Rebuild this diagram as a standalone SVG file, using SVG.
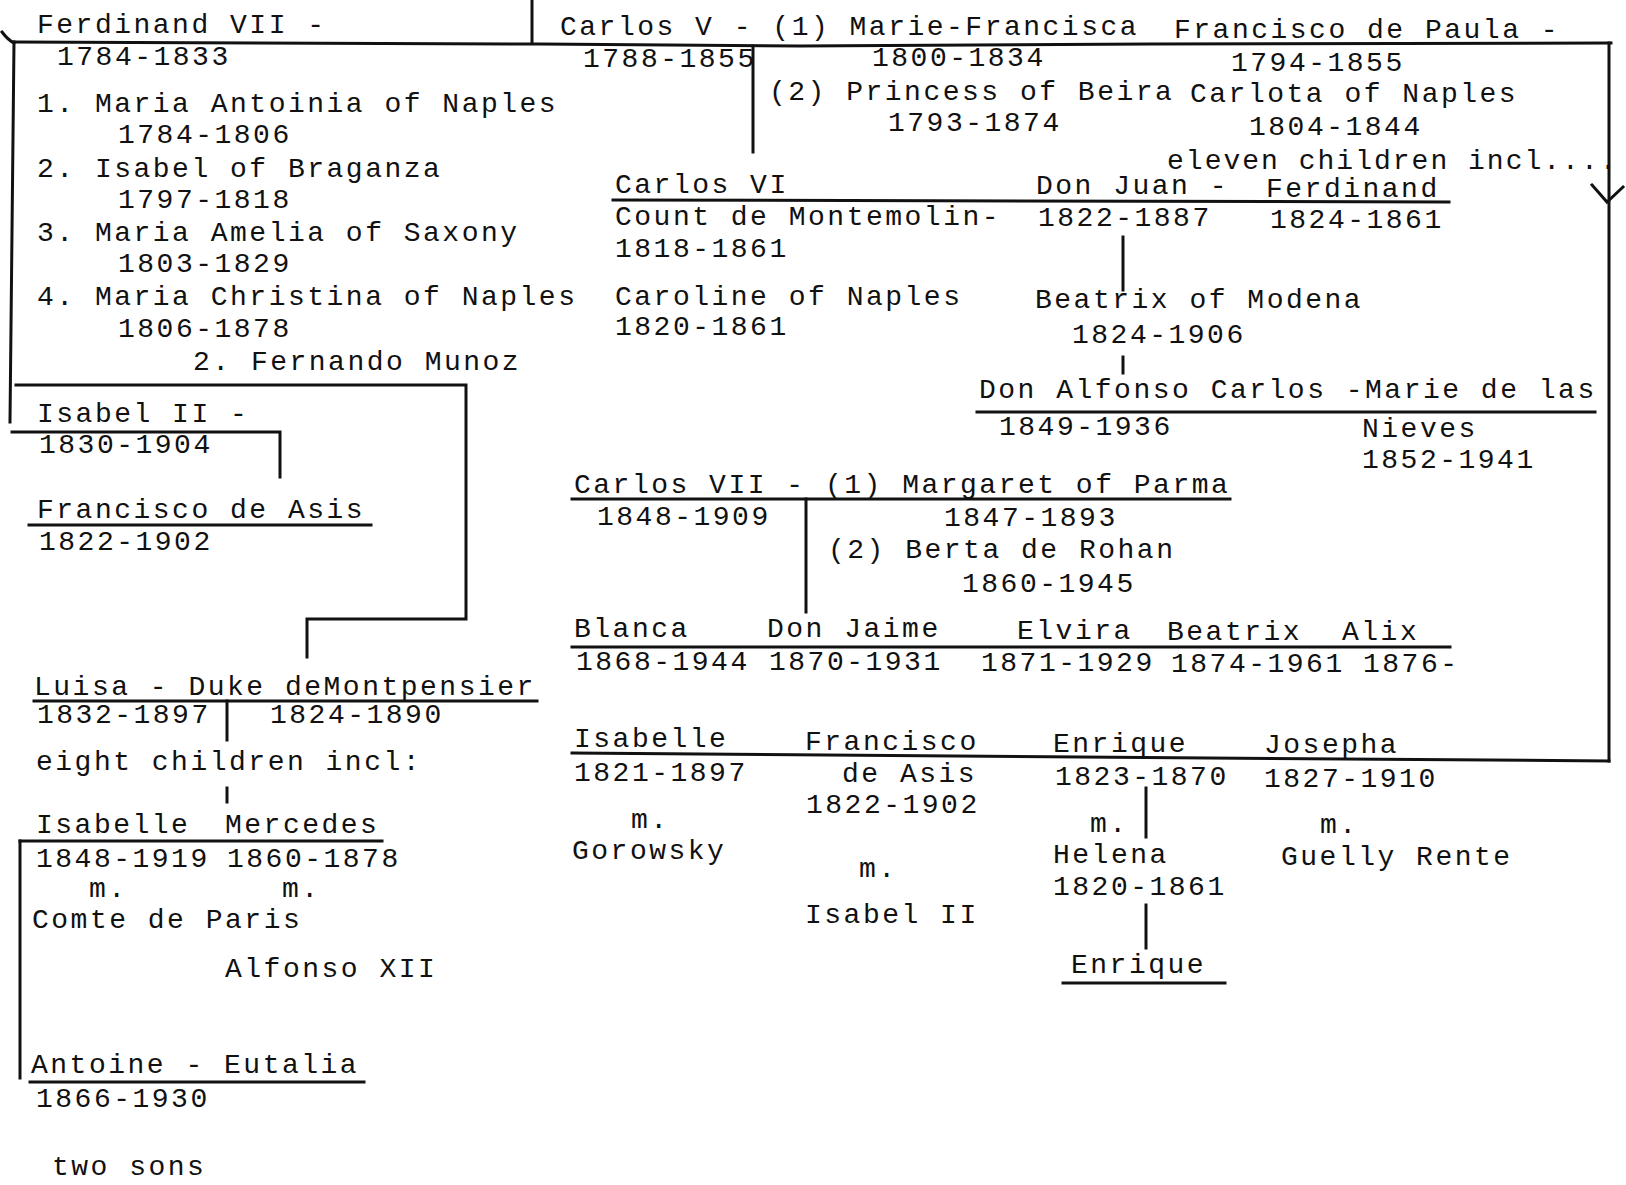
<svg xmlns="http://www.w3.org/2000/svg" width="1626" height="1185" viewBox="0 0 1626 1185">
<style>
.t{font-family:"Liberation Mono","DejaVu Sans Mono",monospace;font-size:28px;letter-spacing:2.5px;fill:#111}
.ln{stroke:#111;stroke-width:3;fill:none;stroke-linecap:square}
</style>
<rect width="1626" height="1185" fill="#fff"/>
<g id="connectors" class="ln">
<path d="M2,32 Q8,40 14,43"/>
<path d="M14,42 L540,44 L800,46 L1150,44 L1611,43"/>
<path d="M532,0 V42"/>
<path d="M14,42 L10,422"/>
<path d="M16,385 H466 V619 H307 V657"/>
<path d="M12,432 H280 V477"/>
<path d="M29,525 H371"/>
<path d="M34,701 H537"/>
<path d="M227,701 V740"/>
<path d="M227,788 V802"/>
<path d="M20,841 H382"/>
<path d="M20,841 V1078"/>
<path d="M30,1082 H364"/>
<path d="M753,46 V152"/>
<path d="M613,200 L1449,202"/>
<path d="M1123,237 V290"/>
<path d="M1123,357 V373"/>
<path d="M977,412 H1595"/>
<path d="M1609,43 V761"/>
<path d="M1592,185 L1607,202 L1623,187"/>
<path d="M572,499 H1230"/>
<path d="M806,499 V612"/>
<path d="M572,647 H1450"/>
<path d="M572,753 L1609,761"/>
<path d="M1146,788 V837"/>
<path d="M1146,905 V948"/>
<path d="M1063,983 H1225"/>
</g>
<g id="ferdinand-vii">
<text class="t" x="37" y="33">Ferdinand VII -</text>
<text class="t" x="57" y="65">1784-1833</text>
</g>
<g id="ferdinand-wives">
<text class="t" x="37" y="112">1. Maria Antoinia of Naples</text>
<text class="t" x="118" y="143">1784-1806</text>
<text class="t" x="37" y="177">2. Isabel of Braganza</text>
<text class="t" x="118" y="208">1797-1818</text>
<text class="t" x="37" y="241">3. Maria Amelia of Saxony</text>
<text class="t" x="118" y="272">1803-1829</text>
<text class="t" x="37" y="305">4. Maria Christina of Naples</text>
<text class="t" x="118" y="337">1806-1878</text>
<text class="t" x="193" y="370">2. Fernando Munoz</text>
</g>
<g id="carlos-v">
<text class="t" x="560" y="35">Carlos V - (1) Marie-Francisca</text>
<text class="t" x="583" y="67">1788-1855</text>
<text class="t" x="872" y="66">1800-1834</text>
<text class="t" x="769" y="100">(2) Princess of Beira</text>
<text class="t" x="888" y="131">1793-1874</text>
</g>
<g id="francisco-de-paula">
<text class="t" x="1174" y="38">Francisco de Paula -</text>
<text class="t" x="1231" y="71">1794-1855</text>
<text class="t" x="1190" y="102">Carlota of Naples</text>
<text class="t" x="1249" y="135">1804-1844</text>
<text class="t" x="1167" y="169" textLength="452" lengthAdjust="spacing">eleven children incl....</text>
</g>
<g id="carlos-vi">
<text class="t" x="615" y="193">Carlos VI</text>
<text class="t" x="615" y="225">Count de Montemolin-</text>
<text class="t" x="615" y="257">1818-1861</text>
<text class="t" x="615" y="305">Caroline of Naples</text>
<text class="t" x="615" y="335">1820-1861</text>
</g>
<g id="don-juan">
<text class="t" x="1036" y="194">Don Juan -</text>
<text class="t" x="1038" y="226">1822-1887</text>
<text class="t" x="1035" y="308">Beatrix of Modena</text>
<text class="t" x="1072" y="343">1824-1906</text>
</g>
<g id="ferdinand-1824">
<text class="t" x="1266" y="197">Ferdinand</text>
<text class="t" x="1270" y="228">1824-1861</text>
</g>
<g id="don-alfonso-carlos">
<text class="t" x="979" y="398">Don Alfonso Carlos -Marie de las</text>
<text class="t" x="999" y="435">1849-1936</text>
<text class="t" x="1362" y="437">Nieves</text>
<text class="t" x="1362" y="468">1852-1941</text>
</g>
<g id="carlos-vii">
<text class="t" x="574" y="493">Carlos VII - (1) Margaret of Parma</text>
<text class="t" x="597" y="525">1848-1909</text>
<text class="t" x="944" y="526">1847-1893</text>
<text class="t" x="828" y="558">(2) Berta de Rohan</text>
<text class="t" x="962" y="592">1860-1945</text>
</g>
<g id="carlos-vii-children">
<text class="t" x="574" y="637">Blanca</text>
<text class="t" x="767" y="637">Don Jaime</text>
<text class="t" x="1017" y="639">Elvira</text>
<text class="t" x="1167" y="640">Beatrix</text>
<text class="t" x="1342" y="640">Alix</text>
<text class="t" x="576" y="670">1868-1944</text>
<text class="t" x="769" y="670">1870-1931</text>
<text class="t" x="981" y="671">1871-1929</text>
<text class="t" x="1171" y="672">1874-1961</text>
<text class="t" x="1363" y="672">1876-</text>
</g>
<g id="francisco-de-paula-children">
<text class="t" x="574" y="747">Isabelle</text>
<text class="t" x="805" y="750">Francisco</text>
<text class="t" x="1053" y="752">Enrique</text>
<text class="t" x="1264" y="753">Josepha</text>
<text class="t" x="574" y="781">1821-1897</text>
<text class="t" x="842" y="782">de Asis</text>
<text class="t" x="1055" y="785">1823-1870</text>
<text class="t" x="1264" y="787">1827-1910</text>
<text class="t" x="806" y="813">1822-1902</text>
<text class="t" x="631" y="828">m.</text>
<text class="t" x="572" y="859">Gorowsky</text>
<text class="t" x="1090" y="832">m.</text>
<text class="t" x="1053" y="863">Helena</text>
<text class="t" x="1053" y="895">1820-1861</text>
<text class="t" x="1320" y="833">m.</text>
<text class="t" x="1281" y="865">Guelly Rente</text>
<text class="t" x="859" y="877">m.</text>
<text class="t" x="805" y="923">Isabel II</text>
</g>
<g id="enrique-son">
<text class="t" x="1071" y="973">Enrique</text>
</g>
<g id="isabel-ii">
<text class="t" x="37" y="422">Isabel II -</text>
<text class="t" x="39" y="453">1830-1904</text>
</g>
<g id="francisco-de-asis">
<text class="t" x="37" y="518">Francisco de Asis</text>
<text class="t" x="39" y="550">1822-1902</text>
</g>
<g id="luisa">
<text class="t" x="34" y="695">Luisa - Duke deMontpensier</text>
<text class="t" x="37" y="723">1832-1897</text>
<text class="t" x="270" y="723">1824-1890</text>
<text class="t" x="36" y="770">eight children incl:</text>
</g>
<g id="isabelle-mercedes">
<text class="t" x="36" y="833">Isabelle</text>
<text class="t" x="225" y="833">Mercedes</text>
<text class="t" x="36" y="867">1848-1919</text>
<text class="t" x="227" y="867">1860-1878</text>
<text class="t" x="89" y="897">m.</text>
<text class="t" x="282" y="897">m.</text>
<text class="t" x="32" y="928">Comte de Paris</text>
<text class="t" x="225" y="977">Alfonso XII</text>
</g>
<g id="antoine">
<text class="t" x="31" y="1073">Antoine - Eutalia</text>
<text class="t" x="36" y="1107">1866-1930</text>
<text class="t" x="52" y="1175">two sons</text>
</g>
</svg>
